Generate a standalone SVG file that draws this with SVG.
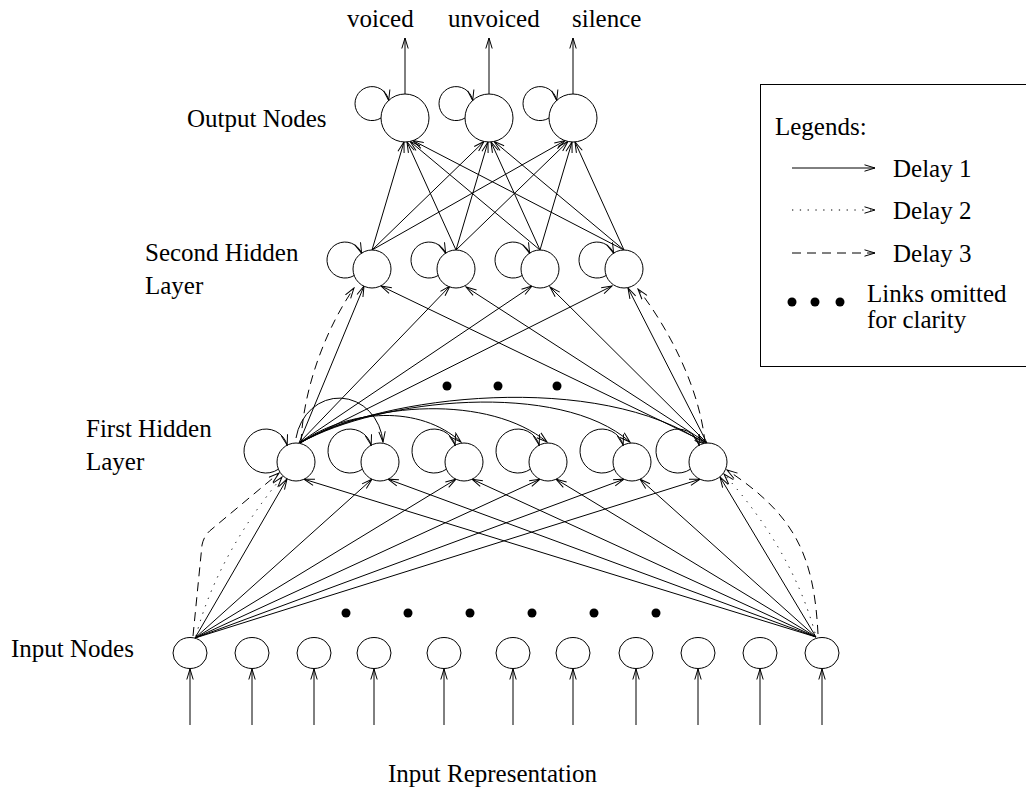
<svg xmlns="http://www.w3.org/2000/svg" width="1026" height="790" viewBox="0 0 1026 790">
<style>
.n{fill:#fff;stroke:#000;stroke-width:1}
.l{fill:none;stroke:#000;stroke-width:1}
.a{fill:none;stroke:#000;stroke-width:1;marker-end:url(#ah)}
.dot{stroke-dasharray:1.3 6.5}
.dash{stroke-dasharray:9 6}
.t{font-family:"Liberation Serif","Times New Roman",serif;font-size:25px;fill:#000}
.b{fill:#000}
</style>
<defs>
<marker id="ah" markerWidth="12" markerHeight="8" refX="11" refY="4" orient="auto" markerUnits="userSpaceOnUse"><path d="M0.5,0.8 L11,4 L0.5,7.2" fill="none" stroke="#000" stroke-width="1"/></marker>
</defs>
<rect width="1026" height="790" fill="#fff"/>

<g id="labels">
<text class="t" x="347" y="27">voiced</text>
<text class="t" x="448" y="27">unvoiced</text>
<text class="t" x="572" y="27">silence</text>
<text class="t" x="187" y="127">Output Nodes</text>
<text class="t" x="145" y="261">Second Hidden</text>
<text class="t" x="145" y="294">Layer</text>
<text class="t" x="86" y="437">First Hidden</text>
<text class="t" x="86" y="470">Layer</text>
<text class="t" x="11" y="657">Input Nodes</text>
<text class="t" x="388" y="782">Input Representation</text>
</g>

<g id="legend">
<rect x="760.5" y="84.5" width="280" height="282" fill="none" stroke="#000" stroke-width="1"/>
<text class="t" x="775" y="135">Legends:</text>
<path class="a" d="M792,168 L875,168"/>
<text class="t" x="893" y="177">Delay 1</text>
<path class="a dot" d="M792,210 L875,210"/>
<text class="t" x="893" y="219">Delay 2</text>
<path class="a dash" d="M792,253 L875,253"/>
<text class="t" x="893" y="262">Delay 3</text>
<circle class="b" cx="792" cy="302" r="4.5"/>
<circle class="b" cx="815" cy="302" r="4.5"/>
<circle class="b" cx="840" cy="302" r="4.5"/>
<text class="t" x="867" y="302">Links omitted</text>
<text class="t" x="867" y="328">for clarity</text>
</g>

<g id="connectors">
<path class="a" d="M405,94 L405,38"/>
<path class="a" d="M489,94 L489,38"/>
<path class="a" d="M573,94 L573,38"/>
<path class="a" d="M190,725 L190,669"/>
<path class="a" d="M252,725 L252,669"/>
<path class="a" d="M314,725 L314,669"/>
<path class="a" d="M374,725 L374,669"/>
<path class="a" d="M444,725 L444,669"/>
<path class="a" d="M513,725 L513,669"/>
<path class="a" d="M573,725 L573,669"/>
<path class="a" d="M636,725 L636,669"/>
<path class="a" d="M698,725 L698,669"/>
<path class="a" d="M760,725 L760,669"/>
<path class="a" d="M822,725 L822,669"/>
<path class="a" d="M372,250 L404,142"/>
<path class="a" d="M456,250 L407,142"/>
<path class="a" d="M540,250 L410,141.4"/>
<path class="a" d="M624,250 L413,140.6"/>
<path class="a" d="M372,250 L484,141.5"/>
<path class="a" d="M456,250 L488,142"/>
<path class="a" d="M540,250 L491,142"/>
<path class="a" d="M624,250 L494,141.4"/>
<path class="a" d="M372,250 L565,140.6"/>
<path class="a" d="M456,250 L568,141.5"/>
<path class="a" d="M540,250 L572,142"/>
<path class="a" d="M624,250 L575,142"/>
<path class="a" d="M299,443 L364,286"/>
<path class="a dash" d="M301,443 C303,390 325,330 354,288"/>
<path class="a" d="M299,443 L450,286"/>
<path class="a" d="M299,443 L532,286"/>
<path class="a" d="M299,443 L612,286"/>
<path class="a" d="M707,443 L381,286"/>
<path class="a" d="M707,443 L466,287"/>
<path class="a" d="M707,443 L550,287"/>
<path class="a" d="M707,443 L628,288"/>
<path class="a dash" d="M705,443 C700,390 670,330 638,289"/>
<path class="a" d="M296,438 A44,49 0 0,1 383,442"/>
<path class="a" d="M300,443 C350,408 420,405 461,442"/>
<path class="a" d="M300,443 C370,400 490,395 547,442"/>
<path class="a" d="M300,443 C380,398 560,380 630,442"/>
<path class="a" d="M300,443 C380,395 600,370 705,444"/>
<path class="a" d="M195,638 L287,479"/>
<path class="a dot" d="M196,636 Q217,556 282,477"/>
<path class="a dash" d="M193,636 L202,545 Q204,535 212,529 L279,473"/>
<path class="a" d="M195,638 L372,479.2"/>
<path class="a" d="M195,638 L456,479.2"/>
<path class="a" d="M195,638 L540,479.2"/>
<path class="a" d="M195,638 L624,479.2"/>
<path class="a" d="M195,638 L700,479.2"/>
<path class="a" d="M816,637 L304,479.2"/>
<path class="a" d="M816,637 L388,479.2"/>
<path class="a" d="M816,637 L472,479.2"/>
<path class="a" d="M816,637 L556,479.2"/>
<path class="a" d="M816,637 L640,479.2"/>
<path class="a" d="M816,637 L720,477"/>
<path class="a dot" d="M815,633 Q792,550 724,474"/>
<path class="a dash" d="M818,634 C814,555 795,515 727,470"/>
</g>

<g id="omitted">
<circle class="b" cx="447" cy="386" r="4.5"/>
<circle class="b" cx="498" cy="386" r="4.5"/>
<circle class="b" cx="557" cy="386" r="4.5"/>
<circle class="b" cx="346" cy="613" r="4.5"/>
<circle class="b" cx="408" cy="613" r="4.5"/>
<circle class="b" cx="470" cy="613" r="4.5"/>
<circle class="b" cx="532" cy="613" r="4.5"/>
<circle class="b" cx="594" cy="613" r="4.5"/>
<circle class="b" cx="656" cy="613" r="4.5"/>
</g>

<g id="output-nodes">
<g id="out-voiced"><circle class="n" cx="405" cy="118" r="24"/><path class="a" d="M381,118 A17,17 0 1,1 388.7,100.4"/></g>
<g id="out-unvoiced"><circle class="n" cx="489" cy="118" r="24"/><path class="a" d="M465,118 A17,17 0 1,1 472.7,100.4"/></g>
<g id="out-silence"><circle class="n" cx="573" cy="118" r="24"/><path class="a" d="M549,118 A17,17 0 1,1 556.7,100.4"/></g>
</g>

<g id="second-hidden">
<g id="s1"><circle class="n" cx="372" cy="269" r="19"/><path class="a" d="M354.2,275.5 A18,18 0 1,1 361.6,253.1"/></g>
<g id="s2"><circle class="n" cx="456" cy="269" r="19"/><path class="a" d="M438.2,275.5 A18,18 0 1,1 445.6,253.1"/></g>
<g id="s3"><circle class="n" cx="540" cy="269" r="19"/><path class="a" d="M522.2,275.5 A18,18 0 1,1 529.6,253.1"/></g>
<g id="s4"><circle class="n" cx="624" cy="269" r="19"/><path class="a" d="M606.2,275.5 A18,18 0 1,1 613.6,253.1"/></g>
</g>

<g id="first-hidden">
<g id="h1"><circle class="n" cx="296" cy="462" r="19"/><path class="a" d="M278.4,469.2 A22,22 0 1,1 287.2,445.2"/></g>
<g id="h2"><circle class="n" cx="380" cy="462" r="19"/><path class="a" d="M362.4,469.2 A22,22 0 1,1 371.2,445.2"/></g>
<g id="h3"><circle class="n" cx="464" cy="462" r="19"/><path class="a" d="M446.4,469.2 A22,22 0 1,1 455.2,445.2"/></g>
<g id="h4"><circle class="n" cx="548" cy="462" r="19"/><path class="a" d="M530.4,469.2 A22,22 0 1,1 539.2,445.2"/></g>
<g id="h5"><circle class="n" cx="632" cy="462" r="19"/><path class="a" d="M614.4,469.2 A22,22 0 1,1 623.2,445.2"/></g>
<g id="h6"><circle class="n" cx="708" cy="462" r="19"/><path class="a" d="M690.4,469.2 A22,22 0 1,1 699.2,445.2"/></g>
</g>

<g id="input-nodes">
<g id="i1"><ellipse class="n" cx="190" cy="653" rx="17" ry="15.5"/></g>
<g id="i2"><ellipse class="n" cx="252" cy="653" rx="17" ry="15.5"/></g>
<g id="i3"><ellipse class="n" cx="314" cy="653" rx="17" ry="15.5"/></g>
<g id="i4"><ellipse class="n" cx="374" cy="653" rx="17" ry="15.5"/></g>
<g id="i5"><ellipse class="n" cx="444" cy="653" rx="17" ry="15.5"/></g>
<g id="i6"><ellipse class="n" cx="513" cy="653" rx="17" ry="15.5"/></g>
<g id="i7"><ellipse class="n" cx="573" cy="653" rx="17" ry="15.5"/></g>
<g id="i8"><ellipse class="n" cx="636" cy="653" rx="17" ry="15.5"/></g>
<g id="i9"><ellipse class="n" cx="698" cy="653" rx="17" ry="15.5"/></g>
<g id="i10"><ellipse class="n" cx="760" cy="653" rx="17" ry="15.5"/></g>
<g id="i11"><ellipse class="n" cx="822" cy="653" rx="17" ry="15.5"/></g>
</g>
</svg>
